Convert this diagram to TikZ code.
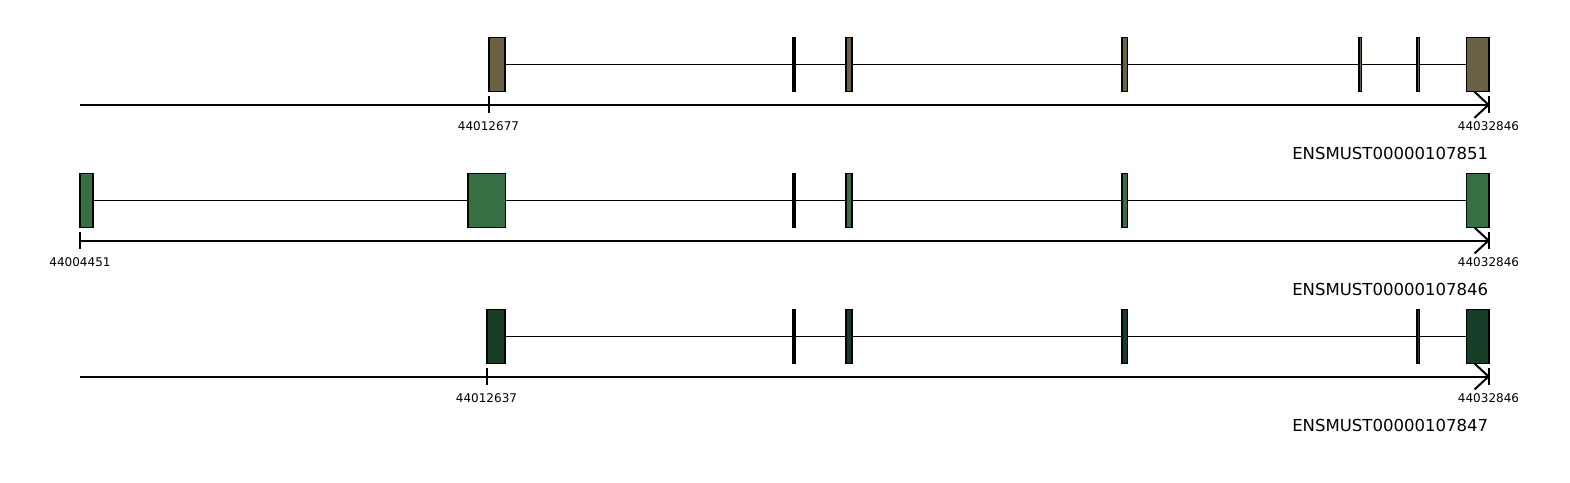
\documentclass[tikz,border=0pt]{standalone}
\usepackage{fontspec}
\setmainfont{DejaVu Sans}
\definecolor{cA}{RGB}{107,97,69}
\definecolor{cB}{RGB}{54,112,66}
\definecolor{cC}{RGB}{23,61,39}
\tikzset{
  exonbox/.style={draw=black, line width=0.8pt, inner sep=0pt, outer sep=0pt, minimum height={54*0.75pt}},
  intron/.style={line width=0.9pt},
  axisline/.style={line width=1.5pt},
  poslabel/.style={font=\fontsize{9pt}{10pt}\selectfont, inner sep=0pt},
  trname/.style={font=\fontsize{12.4pt}{14pt}\selectfont, inner sep=0pt, anchor=east},
}
\newcommand{\exon}[5]{\node[exonbox, fill=#5, minimum width={(#3-#2)*0.75pt}] (#1) at ({(#2+#3)/2},#4) {};}
\begin{document}
\begin{tikzpicture}[x={(0.75pt,0)}, y={(0,-0.75pt)}]
\useasboundingbox (0,0) rectangle (1570,482);
% ---------- track 1 ----------
\exon{a1}{489}{505}{64.8}{cA}
\exon{a2}{793}{795}{64.8}{cA}
\exon{a3}{846}{852}{64.8}{cA}
\exon{a4}{1122}{1127.5}{64.8}{cA}
\exon{a5}{1359}{1361.5}{64.8}{cA}
\exon{a6}{1417}{1419.5}{64.8}{cA}
\exon{a7}{1466.5}{1489}{64.8}{cA}
\draw[intron] (a1.east) -- (a2.west) (a2.east) -- (a3.west) (a3.east) -- (a4.west) (a4.east) -- (a5.west) (a5.east) -- (a6.west) (a6.east) -- (a7.west);
\coordinate (s1) at (80,104.8);
\coordinate (e1) at (1488.5,104.8);
\coordinate (t1) at (488.5,104.8);
\draw[axisline] (s1) -- (e1);
\draw[axisline] (t1) ++(0,-8.5) -- ++(0,17);
\draw[axisline] (e1) ++(0,-8.5) -- ++(0,17);
\draw[axisline] (e1) ++(-14,-13) -- (e1) -- ++(-14,13);
\node[poslabel] (l1a) at (488.5,126.5) {44012677};
\node[poslabel] (l1b) at (1488.5,126.5) {44032846};
\node[trname] (n1) at (1488.5,153) {ENSMUST00000107851};
% ---------- track 2 ----------
\exon{b1}{80}{93}{200.3}{cB}
\exon{b2}{468}{505.5}{200.3}{cB}
\exon{b3}{793}{795}{200.3}{cB}
\exon{b4}{846}{852}{200.3}{cB}
\exon{b5}{1122}{1127.5}{200.3}{cB}
\exon{b6}{1466.5}{1489}{200.3}{cB}
\draw[intron] (b1.east) -- (b2.west) (b2.east) -- (b3.west) (b3.east) -- (b4.west) (b4.east) -- (b5.west) (b5.east) -- (b6.west);
\coordinate (s2) at (80,240.5);
\coordinate (e2) at (1488.5,240.5);
\draw[axisline] (s2) -- (e2);
\draw[axisline] (s2) ++(0,-8.5) -- ++(0,17);
\draw[axisline] (e2) ++(0,-8.5) -- ++(0,17);
\draw[axisline] (e2) ++(-14,-13) -- (e2) -- ++(-14,13);
\node[poslabel] (l2a) at (80,262.5) {44004451};
\node[poslabel] (l2b) at (1488.5,262.5) {44032846};
\node[trname] (n2) at (1488.5,289) {ENSMUST00000107846};
% ---------- track 3 ----------
\exon{c1}{487}{505}{336.3}{cC}
\exon{c2}{793}{795}{336.3}{cC}
\exon{c3}{846}{852}{336.3}{cC}
\exon{c4}{1122}{1127.5}{336.3}{cC}
\exon{c5}{1417}{1419.5}{336.3}{cC}
\exon{c6}{1466.5}{1489}{336.3}{cC}
\draw[intron] (c1.east) -- (c2.west) (c2.east) -- (c3.west) (c3.east) -- (c4.west) (c4.east) -- (c5.west) (c5.east) -- (c6.west);
\coordinate (s3) at (80,376.5);
\coordinate (e3) at (1488.5,376.5);
\coordinate (t3) at (486.5,376.5);
\draw[axisline] (s3) -- (e3);
\draw[axisline] (t3) ++(0,-8.5) -- ++(0,17);
\draw[axisline] (e3) ++(0,-8.5) -- ++(0,17);
\draw[axisline] (e3) ++(-14,-13) -- (e3) -- ++(-14,13);
\node[poslabel] (l3a) at (486.5,398.5) {44012637};
\node[poslabel] (l3b) at (1488.5,398.5) {44032846};
\node[trname] (n3) at (1488.5,425) {ENSMUST00000107847};
\end{tikzpicture}
\end{document}
